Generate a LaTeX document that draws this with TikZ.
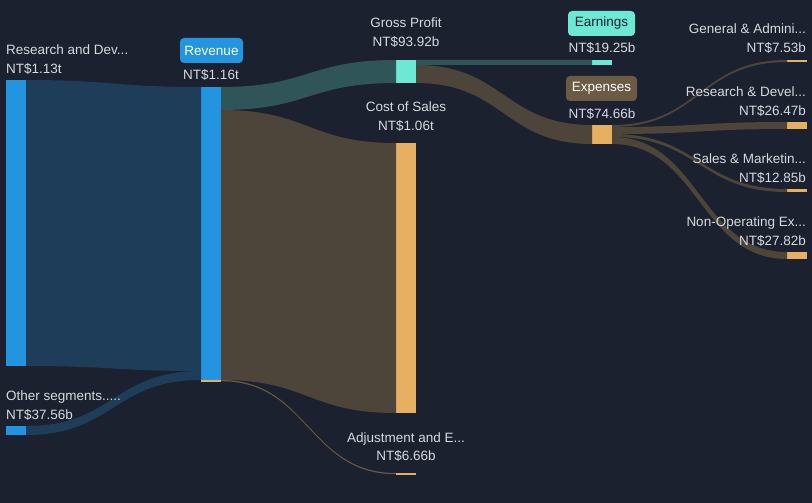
\documentclass[tikz,border=0pt]{standalone}
\usepackage{fontspec}
\setmainfont{Liberation Sans}
\usetikzlibrary{calc}
\definecolor{bg}{HTML}{1C2130}
\definecolor{nblue}{HTML}{2394E0}
\definecolor{nteal}{HTML}{6DE8D4}
\definecolor{norange}{HTML}{E6AF62}
\definecolor{lblue}{HTML}{1E3D58}
\definecolor{lteal}{HTML}{2F5558}
\definecolor{lbrown}{HTML}{4D4539}
\definecolor{bbrown}{HTML}{6B5A44}
\definecolor{txt}{HTML}{D6D9DE}
\definecolor{darktxt}{HTML}{1C2130}
\tikzset{
  bar/.style={fill=#1, draw=none, inner sep=0pt, outer sep=0pt, minimum width=20pt, anchor=north west},
  lbl/.style={text=txt, inner sep=0pt, font=\fontsize{13.5}{16}\selectfont},
  badge/.style={fill=#1, rounded corners=4pt, inner sep=0pt, minimum height=25pt, font=\fontsize{13.5}{16}\selectfont},
}
% band: src node, src top off, src bottom off, dst node, dst top off, dst bottom off, colour
\newcommand{\sankeyband}[7]{%
  \coordinate (s1) at ($(#1.north east)+(0,#2)$);
  \coordinate (s2) at ($(#1.north east)+(0,#3)$);
  \coordinate (d1) at ($(#4.north west)+(0,#5)$);
  \coordinate (d2) at ($(#4.north west)+(0,#6)$);
  \coordinate (m) at ($(s1)!0.5!(d1)$);
  \fill[#7] (s1) .. controls (m |- s1) and (m |- d1) .. (d1) -- (d2)
    .. controls (m |- d2) and (m |- s2) .. (s2) -- cycle;
}
\begin{document}
\begin{tikzpicture}[x=1pt,y=-1pt]
\fill[bg] (0,0) rectangle (812,503);
\useasboundingbox (0,0) rectangle (812,503);

% nodes (bars)
\node[bar=nblue, minimum height=286pt] (rd) at (6,80) {};
\node[bar=nblue, minimum height=9pt] (oth) at (6,426) {};
\node[bar=nblue, minimum height=293pt] (rev) at (201,87) {};
\node[bar=nteal, minimum height=23pt] (gp) at (396,60) {};
\node[bar=norange, minimum height=270pt] (cos) at (396,143) {};
\node[bar=norange, minimum height=2pt] (adj) at (396,473) {};
\node[bar=nteal, minimum height=5pt] (earn) at (592,60) {};
\node[bar=norange, minimum height=19pt] (exp) at (592,125) {};
\node[bar=norange, minimum height=2pt] (ga) at (787,60) {};
\node[bar=norange, minimum height=7pt] (rdx) at (787,122) {};
\node[bar=norange, minimum height=3pt] (sm) at (787,189) {};
\node[bar=norange, minimum height=7pt] (nonop) at (787,252) {};

% flows
\sankeyband{rd}{0}{286}{rev}{0}{284}{lblue}
\sankeyband{oth}{0}{9}{rev}{284}{293}{lblue}
\sankeyband{rev}{0}{23}{gp}{0}{23}{lteal}
\sankeyband{rev}{23}{293}{cos}{0}{270}{lbrown}
\sankeyband{rev}{293}{294.2}{adj}{0}{1.2}{bbrown}
\sankeyband{gp}{0}{5}{earn}{0}{5}{lteal}
\sankeyband{gp}{5}{23}{exp}{0}{19}{lbrown}
\sankeyband{exp}{0}{2}{ga}{0}{2}{lbrown}
\sankeyband{exp}{2}{9}{rdx}{0}{7}{lbrown}
\sankeyband{exp}{9}{12}{sm}{0}{3}{lbrown}
\sankeyband{exp}{12}{19}{nonop}{0}{7}{lbrown}
\fill[norange] (rev.south west) rectangle ($(rev.south east)+(0,2)$);

% labels
\node[lbl, anchor=base west] (rdl) at (6,55) {Research and Dev...};
\node[lbl, anchor=base west] (rdv) at (6,74) {NT\$1.13t};
\node[badge=nblue, minimum width=63pt, text=white] (revb) at (211.5,50.5) {Revenue};
\node[lbl, anchor=base] (revv) at (211,80) {NT\$1.16t};
\node[lbl, anchor=base] (gpl) at (406,28) {Gross Profit};
\node[lbl, anchor=base] (gpv) at (406,47) {NT\$93.92b};
\node[lbl, anchor=base] (cosl) at (406,112) {Cost of Sales};
\node[lbl, anchor=base] (cosv) at (406,131) {NT\$1.06t};
\node[lbl, anchor=base] (adjl) at (406,442) {Adjustment and E...};
\node[lbl, anchor=base] (adjv) at (406,460) {NT\$6.66b};
\node[lbl, anchor=base west] (othl) at (6,400) {Other segments.....};
\node[lbl, anchor=base west] (othv) at (6,419) {NT\$37.56b};
\node[badge=nteal, minimum width=67pt, text=darktxt] (earnb) at (601.5,23.5) {Earnings};
\node[lbl, anchor=base] (earnv) at (602,53) {NT\$19.25b};
\node[badge=bbrown, minimum width=71pt, text=white] (expb) at (601.5,88.5) {Expenses};
\node[lbl, anchor=base] (expv) at (602,118) {NT\$74.66b};
\node[lbl, anchor=base east] (gal) at (806,34) {General \& Admini...};
\node[lbl, anchor=base east] (gav) at (806,53) {NT\$7.53b};
\node[lbl, anchor=base east] (rdxl) at (806,96) {Research \& Devel...};
\node[lbl, anchor=base east] (rdxv) at (806,115) {NT\$26.47b};
\node[lbl, anchor=base east] (sml) at (806,163) {Sales \& Marketin...};
\node[lbl, anchor=base east] (smv) at (806,182) {NT\$12.85b};
\node[lbl, anchor=base east] (nonopl) at (806,226) {Non-Operating Ex...};
\node[lbl, anchor=base east] (nonopv) at (806,245) {NT\$27.82b};
\end{tikzpicture}
\end{document}
